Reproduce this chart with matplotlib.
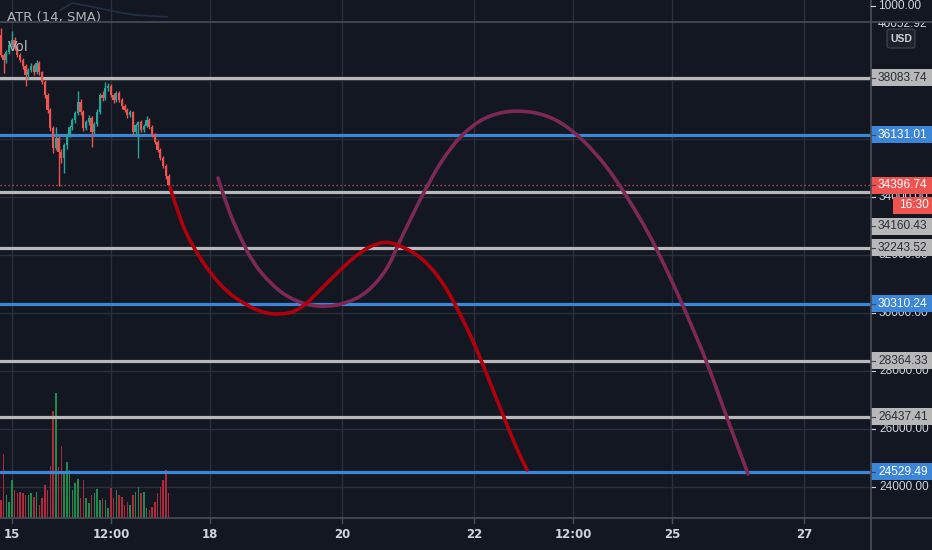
import matplotlib
matplotlib.use('Agg')
import matplotlib.pyplot as plt
import numpy as np
import matplotlib.transforms as mtransforms
from matplotlib.patches import Rectangle, FancyBboxPatch, PathPatch
from matplotlib.path import Path
from matplotlib.lines import Line2D

# ---------------- data ----------------
opens = [39562, 38874, 38702, 38977, 39218, 39390, 39149, 38874, 38702, 38496,
         38186, 38358, 38496, 38289, 38599, 38289, 37945, 37498, 36982, 36363,
         35675, 36019, 35537, 35331, 35778, 36122, 36397, 36638, 36879, 37258,
         36913, 36363, 36569, 36707, 36225, 36500, 36913, 37498, 37395, 37739,
         37808, 37498, 37326, 37567, 37326, 37120, 36982, 36810, 36913, 36225,
         36466, 36569, 36294, 36431, 36638, 36397, 36122, 35881, 35606, 35331,
         35056, 34712]
closes = [38874, 38702, 38977, 39218, 39390, 39149, 38874, 38702, 38496, 38186,
          38358, 38496, 38289, 38599, 38289, 37945, 37498, 36982, 36363, 35675,
          36019, 35537, 35331, 35778, 36122, 36397, 36638, 36879, 37258, 36913,
          36363, 36569, 36707, 36225, 36500, 36913, 37498, 37395, 37739, 37808,
          37498, 37326, 37567, 37326, 37120, 36982, 36810, 36913, 36225, 36466,
          36569, 36294, 36431, 36638, 36397, 36122, 35881, 35606, 35331, 35056,
          34712, 34396.74]
highs = [39800, 38950, 39050, 39350, 39700, 39480, 39220, 38950, 38780, 38560,
         38420, 38600, 38560, 38700, 38660, 38340, 38020, 37560, 37050, 36420,
         36400, 36100, 35650, 35850, 36200, 36480, 36720, 36950, 37650, 37350,
         36980, 36650, 36800, 36780, 36580, 37000, 37580, 37650, 37950, 37900,
         37880, 37560, 37640, 37620, 37400, 37180, 37050, 36990, 36960, 36540,
         36620, 36640, 36500, 36780, 36700, 36450, 36180, 35950, 35680, 35400,
         35120, 34780]
lows = [38800, 38250, 38600, 38900, 39150, 39050, 38800, 38620, 38400, 37800,
        38050, 38290, 38200, 38230, 38180, 37860, 37400, 36880, 36250, 35500,
        35600, 34380, 35150, 34800, 35650, 36050, 36300, 36550, 36800, 36820,
        36250, 36280, 36480, 35700, 36150, 36420, 36850, 37300, 37320, 37650,
        37420, 37220, 37260, 37250, 37030, 36900, 36720, 36740, 36150, 36100,
        35330, 36220, 36230, 36380, 36320, 36050, 35800, 35520, 35250, 34970,
        34620, 34330]
volumes = [450, 1575, 575, 400, 950, 700, 625, 650, 625, 575,
           575, 625, 525, 650, 325, 500, 825, 700, 1300, 2650,
           3100, 1275, 1775, 1125, 1400, 1200, 700, 875, 975, 500,
           950, 500, 375, 575, 625, 725, 450, 500, 450, 250,
           750, 500, 700, 575, 525, 325, 400, 325, 575, 650,
           775, 625, 650, 250, 200, 275, 400, 625, 775, 950,
           1200, 625]
first_bar_day = 14.83          # day-of-month of first hourly candle
times = first_bar_day + np.arange(len(closes)) / 24.0

gray_levels = [38083.74, 34160.43, 32243.52, 28364.33, 26437.41]
blue_levels = [36131.01, 30310.24, 24529.49]
last_price = 34396.74

# hand-drawn projection paths (day, price)
red_path_days = [17.394, 17.545, 17.742, 18.000, 18.258, 18.500, 18.758, 19.061,
                 19.364, 19.667, 19.970, 20.273, 20.530, 20.727, 20.879, 21.106,
                 21.333, 21.530, 21.712, 21.894, 22.045, 22.167, 22.318, 22.470,
                 22.636, 22.803]
red_path_prices = [34333, 33198, 32269, 31375, 30721, 30343, 30033, 29930,
                   30102, 30790, 31478, 32097, 32407, 32441, 32304, 32063,
                   31616, 31031, 30308, 29483, 28726, 28038, 27178, 26318,
                   25389, 24598]
purple_path_days = [18.121, 18.258, 18.455, 18.652, 18.909, 19.167, 19.470, 19.773,
                    20.076, 20.379, 20.682, 20.848, 21.030, 21.333, 21.636, 21.939,
                    22.242, 22.621, 23.076, 23.455, 23.833, 24.136, 24.394, 24.636,
                    24.848, 25.061, 25.273, 25.530, 25.833, 26.152]
purple_path_prices = [34643, 33645, 32613, 31719, 31031, 30549, 30274, 30206,
                      30343, 30687, 31478, 32338, 33198, 34574, 35675, 36397,
                      36810, 36982, 36844, 36363, 35537, 34643, 33714, 32785,
                      31822, 30790, 29689, 28313, 26387, 24460]

atr_days = [15.73, 15.91, 16.12, 16.35, 16.58, 16.85, 17.35]
atr_values = [930, 1020, 990, 950, 910, 870, 845]

time_tick_days = [15, 16.5, 18, 20, 22, 23.5, 25, 27]
time_tick_labels = ['15', '12:00', '18', '20', '22', '12:00', '25', '27']
price_ticks = [24000, 26000, 28000, 30000, 32000, 34000, 36000, 38000]
price_tick_labels = ['24000.00', '26000.00', '28000.00', '30000.00',
                     '32000.00', '34000.00', '36000.00', '38000.00']

# ---------------- style ----------------
BG = '#131722'
GRID = '#2b2f3a'
SEP = '#4a4e59'
TXT = '#d1d4dc'
UP, DOWN = '#26a69a', '#ef5350'
VUP, VDOWN = '#1f8a4c', '#b0283c'
GRAYL, BLUEL = '#b8b8b8', '#3b86d8'
PFONT = 'Liberation Sans'
PSIZE = 8.6
W, H = 932, 550
AXR = 871


def fy(ypx):
    return 1 - ypx / H


fig = plt.figure(figsize=(W / 100, H / 100), dpi=100, facecolor=BG)

# volume axes (below) and price axes (above), same box
box = [0, fy(518), AXR / W, (518 - 22) / H]
axv = fig.add_axes(box)
axv.set_facecolor(BG)
ax = fig.add_axes(box, sharex=axv)
ax.patch.set_visible(False)
for a in (ax, axv):
    for s in a.spines.values():
        s.set_visible(False)
    a.tick_params(left=False, right=False, bottom=False, top=False,
                  labelleft=False, labelbottom=False)
ax.set_xlim(14.818, 28.015)
ax.set_ylim(22947, 40009)

# grid (drawn on the lower axes)
for d in time_tick_days:
    axv.axvline(d, color=GRID, lw=1, zorder=0)
for p in price_ticks:
    axv.plot([14.818, 28.015], [p, p], transform=ax.transData, color=GRID,
             lw=1, zorder=0)
axv.set_xlim(14.818, 28.015)
axv.set_ylim(0, max(volumes) / 0.252)

# volume bars
vcols = [VUP if c >= o else VDOWN for o, c in zip(opens, closes)]
axv.bar(times, volumes, width=0.55 / 24, color=vcols, zorder=1)

# level lines
for p in gray_levels:
    ax.axhline(p, color=GRAYL, lw=2.3, zorder=2)
for p in blue_levels:
    ax.axhline(p, color=BLUEL, lw=2.3, zorder=2)
ax.axhline(last_price, color=DOWN, lw=0.9, ls=(0, (1, 2.2)), zorder=2)

# candles
ccols = [UP if c >= o else DOWN for o, c in zip(opens, closes)]
ax.vlines(times, lows, highs, colors=ccols, lw=1, zorder=3)
ax.bar(times, [max(abs(c - o), 40) for o, c in zip(opens, closes)],
       bottom=[min(o, c) for o, c in zip(opens, closes)],
       width=0.85 / 24, color=ccols, zorder=4)


def smooth(xs, ys):
    verts = [(xs[0], ys[0])]
    codes = [Path.MOVETO]
    for i in range(1, len(xs) - 1):
        verts += [(xs[i], ys[i]), ((xs[i] + xs[i + 1]) / 2, (ys[i] + ys[i + 1]) / 2)]
        codes += [Path.CURVE3, Path.CURVE3]
    verts.append((xs[-1], ys[-1]))
    codes.append(Path.LINETO)
    return Path(verts, codes)


ax.add_patch(PathPatch(smooth(purple_path_days, purple_path_prices), fill=False,
                       edgecolor='#7e2856', lw=2.6, capstyle='round', zorder=5))
ax.add_patch(PathPatch(smooth(red_path_days, red_path_prices), fill=False,
                       edgecolor='#b0000c', lw=2.6, capstyle='round', zorder=6))

ax.text(0.009, 0.95, 'Vol', transform=ax.transAxes, color='#b2b5be',
        fontsize=10, va='center', ha='left', zorder=7)

# ---------------- ATR pane ----------------
axa = fig.add_axes([0, fy(22), AXR / W, 22 / H], sharex=axv)
axa.set_facecolor(BG)
for s in axa.spines.values():
    s.set_visible(False)
axa.tick_params(left=False, bottom=False, labelleft=False, labelbottom=False)
axa.set_ylim(780, 1060)
for d in time_tick_days:
    axa.axvline(d, color=GRID, lw=1, zorder=0)
axa.plot(atr_days, atr_values, color='#222f48', lw=1.2)
axa.text(0.008, 0.22, 'ATR (14, SMA)', transform=axa.transAxes, color='#b2b5be',
         fontsize=9.5, va='center', ha='left', clip_on=True)
ax.set_xlim(14.818, 28.015)

# ---------------- frame lines ----------------
fig.add_artist(Line2D([0, 1], [fy(518), fy(518)], transform=fig.transFigure,
                      color=SEP, lw=1.2))
fig.add_artist(Line2D([0, 1], [fy(22), fy(22)], transform=fig.transFigure,
                      color=SEP, lw=1.2))
fig.add_artist(Line2D([AXR / W, AXR / W], [0, 1], transform=fig.transFigure,
                      color=SEP, lw=1.2))

# time axis labels
tt = mtransforms.blended_transform_factory(ax.transData, fig.transFigure)
for d, lab in zip(time_tick_days, time_tick_labels):
    fig.add_artist(Line2D([d, d], [fy(518), fy(523)], transform=tt, color=SEP, lw=1))
    fig.text(d, fy(535), lab, transform=tt, color=TXT, fontsize=8.5,
             fontweight='bold', ha='center', va='center')

# ---------------- price scale ----------------
axp = fig.add_axes([AXR / W, fy(518), (W - AXR) / W, (518 - 22) / H])
axp.set_xlim(0, W - AXR)
axp.set_ylim(ax.get_ylim())
axp.axis('off')
axp.patch.set_visible(False)
pt = mtransforms.blended_transform_factory(axp.transData, ax.transData)
px_per_price = (518 - 22) / (ax.get_ylim()[1] - ax.get_ylim()[0])
half_h = 8.5 / px_per_price

for p, lab in zip(price_ticks, price_tick_labels):
    if p > 35000:
        continue
    axp.plot([0, 4], [p, p], transform=pt, color=TXT, lw=0.8)
    axp.text(8, p, lab, transform=pt, color=TXT, fontsize=PSIZE, va='center',
             ha='left', family=PFONT)


def level_label(p, lab, fc, tc, shift_px=0):
    yc = p - shift_px / px_per_price
    axp.add_patch(Rectangle((0, yc - half_h), W - AXR, 2 * half_h, transform=pt,
                            facecolor=fc, edgecolor='none', zorder=5))
    axp.plot([0, 4], [yc, yc], transform=pt, color='#434651', lw=0.8, zorder=6)
    axp.text(7, yc, lab, transform=pt, color=tc, fontsize=PSIZE, va='center',
             ha='left', zorder=6, family=PFONT)


for p in gray_levels:
    level_label(p, f'{p:.2f}', '#b8b8b8', '#2a2e39', 34 if p == 34160.43 else 0)
for p in blue_levels:
    level_label(p, f'{p:.2f}', BLUEL, 'white')
level_label(last_price, f'{last_price:.2f}', DOWN, 'white', 0)

# countdown box
cd_center = last_price - 20 / px_per_price
axp.add_patch(Rectangle((22, cd_center - half_h), W - AXR - 22, 2 * half_h,
                        transform=pt, facecolor=DOWN, edgecolor='none', zorder=5))
axp.text(28, cd_center, '16:30', transform=pt, color='white', fontsize=PSIZE,
         va='center', ha='left', zorder=6, family=PFONT)

# top partially hidden label
axp.text(7, 39925, '40052.92', transform=pt, color=TXT, fontsize=PSIZE,
         va='center', ha='left', zorder=4, family=PFONT, clip_on=True)

# USD box
fig.add_artist(FancyBboxPatch((887 / W, fy(48)), 28 / W, 19 / H,
                              boxstyle='round,pad=0,rounding_size=0.004',
                              transform=fig.transFigure, facecolor='#1e222d',
                              edgecolor='#434651', lw=0.8))
fig.text(901 / W, fy(38.5), 'USD', color=TXT, fontsize=7.5, ha='center',
         va='center', family=PFONT, fontweight='bold')

# ATR pane scale label
fig.text(878 / W, fy(6), '1000.00', color=TXT, fontsize=PSIZE, ha='left',
         va='center', family=PFONT)
fig.add_artist(Line2D([AXR / W, 875 / W], [fy(6), fy(6)],
                      transform=fig.transFigure, color=TXT, lw=0.8))

fig.savefig('out.png', dpi=100, facecolor=BG)
